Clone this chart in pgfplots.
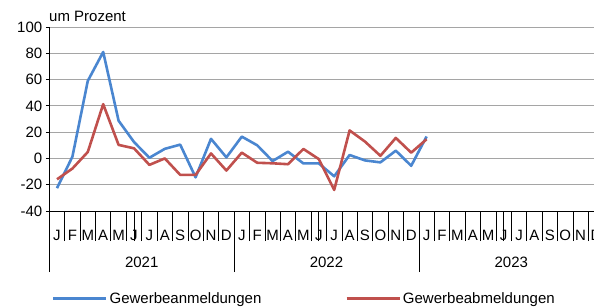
\documentclass[border=0pt]{standalone}
\usepackage{fontspec}
\setmainfont{Liberation Sans}
\usepackage{pgfplots}
\pgfplotsset{compat=1.18}
\usetikzlibrary{calc}
\definecolor{cblue}{RGB}{74,134,208}
\definecolor{cred}{RGB}{192,80,77}
\definecolor{cgrid}{RGB}{165,165,165}
\begin{document}
\begin{tikzpicture}[x=1pt,y=1pt]
\begin{axis}[
 scale only axis, width=554.4pt, height=184pt,
 xmin=0, xmax=36, ymin=-40, ymax=100,
 axis x line*=bottom, axis y line*=left,
 axis line style={black, line width=0.8pt},
 font=\fontsize{15}{18}\selectfont,
 /pgf/number format/assume math mode=true,
 ytick={-40,-20,...,100},
 ymajorgrids, grid style={cgrid, line width=1pt},
 xtick={0,...,35},
 xticklabels={J,F,M,A,M,J,J,A,S,O,N,D,J,F,M,A,M,J,J,A,S,O,N,D,J,F,M,A,M,J,J,A,S,O,N,D},
 minor xtick={0,12,24,36},
 tick align=outside,
 major tick length=3.5pt,
 minor tick length=61pt,
 tick style={black, line width=0.8pt},
 xtick style={/pgfplots/major tick length=30pt},
 xticklabel style={xshift=7.7pt, anchor=base, yshift=-26pt},
 extra x ticks={5.5,17.5,29.5},
 extra x tick labels={2021,2022,2023},
 extra x tick style={major tick length=0pt, xticklabel style={yshift=-30.5pt}},
 clip=false,
 legend style={at={(0.0049,-0.476)}, anchor=west, draw=none, fill=none, inner sep=0pt, outer sep=0pt,
   legend columns=2, font=\fontsize{15}{18}\selectfont,
   /tikz/every even column/.append style={column sep=82pt}},
 legend cell align=left,
 legend image code/.code={\draw[#1, line width=2.6pt] (0pt,0pt) -- (50pt,0pt);\path (50pt,0pt) -- (53pt,0pt);},
]
\addplot[cblue, line width=2.6pt, line join=round] coordinates {
(0.5,-22.6) (1.5,1.3) (2.5,59) (3.5,81) (4.5,28.7) (5.5,12.5) (6.5,0.5) (7.5,7.3) (8.5,10.5) (9.5,-14.4)
(10.5,14.9) (11.5,0.8) (12.5,16.6) (13.5,10) (14.5,-2) (15.5,5.1) (16.5,-3.8) (17.5,-3.8) (18.5,-13.6)
(19.5,2.6) (20.5,-1.5) (21.5,-3) (22.5,5.9) (23.5,-5.6) (24.5,16.7)};
\addlegendentry{Gewerbeanmeldungen}
\addplot[cred, line width=2.6pt, line join=round] coordinates {
(0.5,-15.9) (1.5,-7.7) (2.5,4.9) (3.5,41.3) (4.5,10.3) (5.5,7.7) (6.5,-4.9) (7.5,0) (8.5,-12.5) (9.5,-12.5)
(10.5,3.8) (11.5,-9.2) (12.5,4.4) (13.5,-3.3) (14.5,-3.7) (15.5,-4.4) (16.5,7.2) (17.5,-0.5) (18.5,-24)
(19.5,21.3) (20.5,12.8) (21.5,2) (22.5,15.6) (23.5,4.4) (24.5,14.6)};
\addlegendentry{Gewerbeabmeldungen}
\coordinate (bl) at (rel axis cs:0,0);
\end{axis}
\node[anchor=base west, font=\fontsize{15}{18}\selectfont] at ($(bl)+(-3.6,189.3)$) {um Prozent};
\pgfresetboundingbox
\path[use as bounding box] ($(bl)+(-49.3,-95)$) rectangle ($(bl)+(544.7,211)$);
\end{tikzpicture}
\end{document}
